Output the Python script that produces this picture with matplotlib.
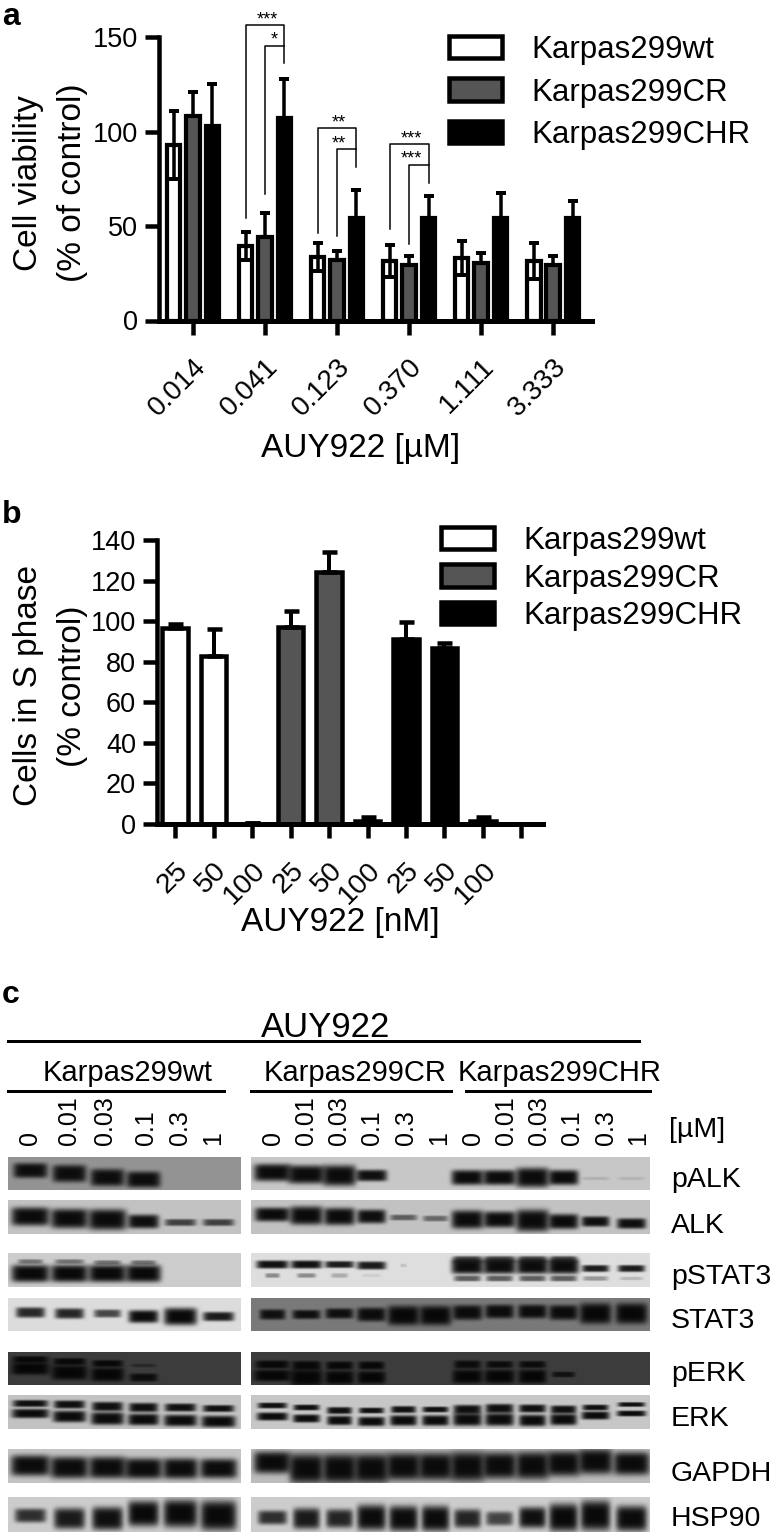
import numpy as np
import matplotlib
matplotlib.use("Agg")
import matplotlib.pyplot as plt
from matplotlib.patches import Patch
from matplotlib.transforms import ScaledTranslation

W, H = 773, 1533
PX = 0.72  # one pixel in points at dpi 100

plt.rcParams['font.family'] = ['Liberation Sans', 'DejaVu Sans']

series_names = ["Karpas299wt", "Karpas299CR", "Karpas299CHR"]
series_colors = ["white", "#555555", "black"]

# panel a
doses_a = ["0.014", "0.041", "0.123", "0.370", "1.111", "3.333"]
wt_a = [93, 39.5, 33.5, 31.5, 33, 31.5]
wt_a_err = [18, 7.5, 7.5, 8.5, 9, 9.5]
cr_a = [108, 44, 32, 29.5, 30.5, 29.5]
cr_a_err = [13, 13, 5, 4.5, 5, 4.5]
chr_a = [103, 107, 54, 54, 54, 54]
chr_a_err = [22, 21, 15, 12, 13.5, 9]

# group, left end, top, right end, inner left end, inner top, stars outer, stars inner
brackets = [
    (1, 54, 156.5, 136.5, 67, 145.5, "***", "*"),
    (2, 46.5, 102, 81, 44.5, 90.5, "**", "**"),
    (3, 48.5, 93.5, 72.5, 40.5, 82.5, "***", "***"),
]

# panel b
doses_b = ["25", "50", "100", "25", "50", "100", "25", "50", "100", ""]
s_phase = [96.8, 83, 0.5, 97, 124, 1.5, 91, 87, 1.5, 0]
s_phase_err = [2, 13.3, 0, 8, 10.3, 2, 8.5, 2.3, 2, 0]
s_phase_group = [0, 0, 0, 1, 1, 1, 2, 2, 2, 2]

# panel c
lane_doses = ["0", "0.01", "0.03", "0.1", "0.3", "1"]
lanes = [30, 69, 107, 143, 180, 218, 272, 306, 339, 371, 403, 435, 467, 499, 532, 563, 595, 631]
lane_text_x = [30, 69, 105, 146, 180, 213, 273, 306, 339, 372, 406, 439, 473, 506, 539, 572, 606, 638]

blot_names = ["pALK", "ALK", "pSTAT3", "STAT3", "pERK", "ERK", "GAPDH", "HSP90"]
blot_text_y = [1180, 1226, 1277, 1321, 1374, 1419, 1474, 1519]
blot_top = [1157, 1200, 1253, 1298, 1352, 1395, 1449, 1497]
blot_bottom = [1190, 1234, 1287, 1331, 1385, 1429, 1483, 1532]
blot_grey_left = [0.58, 0.76, 0.80, 0.86, 0.24, 0.76, 0.77, 0.80]
blot_grey_right = [0.78, 0.76, 0.87, 0.48, 0.24, 0.78, 0.74, 0.80]

# each band row: name index, strengths, y centres, heights, widths
band_rows = [
    (0, [.95, .95, .95, .95, 0, 0, .97, .97, .97, .95, 0, 0, .97, .97, .97, .97, .14, .12],
     [1170, 1173, 1177, 1179, 1179, 1179, 1172, 1174, 1175, 1175, 1175, 1175, 1177, 1177, 1177, 1177, 1178, 1178],
     [13, 15, 15, 14, 1, 1, 15, 16, 18, 10, 1, 1, 13, 13, 17, 13, 3, 3],
     [33, 33, 33, 33, 1, 1, 36, 36, 32, 30, 1, 1, 31, 32, 32, 29, 26, 26]),
    (1, [.97, .97, .97, .95, .7, .7, .97, .97, .97, .95, .55, .5, .97, .97, .97, .97, .95, .95],
     [1216, 1218, 1219, 1221, 1222, 1222, 1214, 1215, 1216, 1216, 1217, 1218, 1219, 1219, 1220, 1221, 1221, 1223],
     [16, 17, 18, 12, 6, 6, 12, 16, 15, 12, 5, 5, 16, 14, 19, 13, 9, 9],
     [37, 36, 37, 30, 30, 30, 34, 32, 30, 28, 26, 24, 31, 31, 32, 29, 27, 28]),
    (2, [.45, .45, .45, .45, 0, 0, .95, .95, .9, .9, .15, 0, .7, .7, .7, .7, 0, 0],
     [1261, 1261, 1262, 1262, 1262, 1262, 1264, 1264, 1264, 1265, 1265, 1265, 1259, 1259, 1259, 1259, 1259, 1259],
     [4, 4, 4, 4, 1, 1, 7, 7, 6, 7, 3, 1, 6, 6, 6, 6, 1, 1],
     [24, 28, 26, 24, 1, 1, 31, 30, 28, 28, 6, 1, 28, 30, 28, 26, 1, 1]),
    (2, [.98, .98, .98, .98, 0, 0, .4, .4, .25, .1, 0, 0, .97, .97, .97, .97, .9, .9],
     [1273, 1273, 1273, 1273, 1273, 1273, 1275, 1275, 1275, 1275, 1275, 1275, 1266, 1266, 1266, 1266, 1268, 1268],
     [15, 15, 15, 15, 1, 1, 4, 4, 4, 3, 1, 1, 13, 13, 13, 13, 6, 6],
     [37, 36, 37, 34, 1, 1, 14, 18, 16, 18, 1, 1, 31, 32, 31, 30, 26, 26]),
    (2, [0] * 12 + [.6, .6, .6, .6, .35, .2],
     [1278] * 18,
     [1] * 12 + [5, 5, 5, 5, 4, 3],
     [1] * 12 + [26, 26, 26, 26, 24, 22]),
    (3, [.85, .85, .7, .97, .98, .9, .92, .92, .92, .95, .98, .98, .95, .95, .95, .95, .98, .98],
     [1312, 1313, 1313, 1316, 1316, 1316, 1314, 1314, 1313, 1314, 1315, 1315, 1312, 1311, 1311, 1312, 1313, 1313],
     [9, 9, 7, 11, 15, 8, 9, 8, 9, 12, 17, 17, 13, 12, 12, 13, 18, 18],
     [28, 28, 26, 29, 32, 30, 25, 27, 27, 28, 31, 31, 29, 28, 28, 28, 31, 31]),
    (4, [.95, .95, .95, .45, 0, 0, .95, .95, .95, .95, 0, 0, .9, .9, .9, 0, 0, 0],
     [1359, 1361, 1363, 1365, 1365, 1365, 1364, 1365, 1365, 1365, 1365, 1365, 1364, 1364, 1364, 1364, 1364, 1364],
     [6, 6, 6, 3, 1, 1, 7, 8, 7, 7, 1, 1, 7, 6, 6, 1, 1, 1],
     [35, 32, 30, 24, 1, 1, 33, 28, 26, 25, 1, 1, 26, 26, 26, 1, 1, 1]),
    (4, [.98, .98, .98, .9, 0, 0, .98, .98, .98, .98, 0, 0, .98, .98, .98, .8, 0, 0],
     [1368, 1372, 1374, 1377, 1377, 1377, 1375, 1377, 1377, 1377, 1377, 1377, 1376, 1376, 1376, 1374, 1374, 1374],
     [11, 13, 12, 7, 1, 1, 10, 14, 12, 11, 1, 1, 12, 12, 12, 5, 1, 1],
     [37, 35, 32, 27, 1, 1, 36, 31, 28, 27, 1, 1, 29, 29, 27, 22, 1, 1]),
    (5, [.95] * 18,
     [1403, 1404, 1406, 1407, 1407, 1408, 1405, 1407, 1410, 1410, 1409, 1409, 1409, 1408, 1408, 1409, 1407, 1404],
     [6, 7, 8, 8, 7, 6, 5, 5, 6, 5, 6, 5, 8, 8, 7, 7, 5, 4],
     [34, 30, 30, 28, 30, 30, 28, 25, 24, 24, 24, 25, 27, 27, 26, 25, 25, 26]),
    (5, [.97] * 18,
     [1413, 1416, 1418, 1419, 1420, 1421, 1416, 1418, 1420, 1421, 1420, 1420, 1419, 1419, 1420, 1419, 1415, 1413],
     [8, 10, 11, 10, 10, 10, 7, 7, 8, 8, 9, 9, 11, 11, 10, 10, 7, 5],
     [36, 32, 32, 30, 32, 33, 30, 26, 24, 26, 26, 26, 28, 28, 26, 26, 27, 28]),
    (6, [.97] * 18,
     [1465, 1467, 1467, 1468, 1468, 1468, 1462, 1468, 1468, 1468, 1466, 1466, 1466, 1465, 1465, 1463, 1461, 1463],
     [18, 19, 19, 18, 18, 17, 19, 26, 26, 26, 24, 24, 26, 23, 24, 22, 22, 20],
     [38, 37, 36, 37, 34, 36, 36, 33, 33, 33, 33, 33, 33, 33, 32, 32, 33, 35]),
    (7, [.8, .9, .95, .98, .98, .98, .8, .9, .85, .97, .97, .97, .85, .7, .95, .98, .98, .97],
     [1515, 1518, 1518, 1513, 1513, 1515, 1517, 1518, 1518, 1517, 1518, 1518, 1518, 1518, 1517, 1517, 1515, 1518],
     [12, 18, 20, 22, 24, 26, 12, 18, 16, 22, 22, 22, 16, 12, 18, 24, 26, 22],
     [30, 30, 30, 30, 33, 35, 28, 26, 26, 28, 28, 27, 26, 26, 26, 28, 29, 30]),
]


def add_axes_px(fig, left, right, top, bottom):
    return fig.add_axes([left / W, 1 - bottom / H, (right - left) / W, (bottom - top) / H])


def style_axes(ax):
    ax.patch.set_visible(False)
    ax.spines['top'].set_visible(False)
    ax.spines['right'].set_visible(False)
    ax.spines['left'].set_linewidth(4.5 * PX)
    ax.spines['bottom'].set_linewidth(5 * PX)
    ax.tick_params(axis='both', length=14 * PX, width=4.5 * PX, pad=5)


def make_blot_image():
    img = np.ones((H, W))
    inside = np.zeros((H, W), dtype=bool)
    yy, xx = np.mgrid[0:H, 0:W]
    for top, bottom, g_left, g_right in zip(blot_top, blot_bottom, blot_grey_left, blot_grey_right):
        img[top:bottom, 8:241] = g_left
        img[top:bottom, 251:650] = g_right
        inside[top:bottom, 8:241] = True
        inside[top:bottom, 251:650] = True
    for row in band_rows:
        _, strengths, ys, heights, widths = row
        for x, s, y, h, w in zip(lanes, strengths, ys, heights, widths):
            if s == 0:
                continue
            y0, y1 = max(0, y - 30), min(H, y + 30)
            x0, x1 = max(0, x - 30), min(W, x + 30)
            dx = (xx[y0:y1, x0:x1] - x) / (w * 0.52)
            dy = (yy[y0:y1, x0:x1] - y) / (h * 0.58)
            f = np.exp(-(np.abs(dx) ** 6 + np.abs(dy) ** 4))
            band = 0.02 + (1 - s) * img[y0:y1, x0:x1]
            img[y0:y1, x0:x1] = img[y0:y1, x0:x1] * (1 - f) + band * f
    img[~inside] = 1
    return np.clip(img, 0, 1)


def legend_px(ax, left, top, spacing):
    handles = [Patch(facecolor=c, edgecolor='black', linewidth=4.5 * PX) for c in series_colors]
    ax.legend(handles, series_names, loc='upper left', frameon=False,
              bbox_to_anchor=(left / W, 1 - top / H), bbox_transform=ax.figure.transFigure,
              fontsize=22.5, handlelength=1.7, handleheight=0.73, handletextpad=0.95,
              labelspacing=spacing, borderpad=0, borderaxespad=0)


def draw_panel_a(fig):
    ax = add_axes_px(fig, 159, 592, 37, 320.5)
    style_axes(ax)
    x = np.arange(len(doses_a))
    offset = 0.27
    groups = [(wt_a, wt_a_err), (cr_a, cr_a_err), (chr_a, chr_a_err)]
    for i, (vals, errs) in enumerate(groups):
        lower = errs if i == 0 else [0] * len(errs)
        ax.bar(x + (i - 1) * offset, vals, width=0.19, color=series_colors[i],
               edgecolor='black', linewidth=4.2 * PX, yerr=[lower, errs],
               error_kw=dict(ecolor='black', elinewidth=3.5 * PX, capsize=5.4 * PX, capthick=4 * PX))

    for g, left_end, top, right_end, inner_end, inner_top, s1, s2 in brackets:
        xl, xm, xr = g - offset, g, g + offset
        ax.plot([xl, xl, xr, xr], [left_end, top, top, right_end], color='black',
                lw=1.5 * PX, clip_on=False)
        ax.plot([xm, xm, xr], [inner_end, inner_top, inner_top], color='black',
                lw=1.5 * PX, clip_on=False)
        ax.text(g + 0.03, top - 1.8, s1, ha='center', va='bottom', fontsize=13, clip_on=False)
        sx = g + 0.13 if len(s2) == 1 else g + 0.03
        ax.text(sx, inner_top - 1.8, s2, ha='center', va='bottom', fontsize=13, clip_on=False)

    ax.set_xlim(-0.472, 5.54)
    ax.set_ylim(0, 150)
    ax.set_yticks([0, 50, 100, 150])
    ax.tick_params(axis='y', labelsize=19.5)
    ax.set_xticks(x)
    labels = ax.set_xticklabels(doses_a, rotation=45, ha='right', rotation_mode='anchor', fontsize=20)
    shift = ScaledTranslation(-3 / 100, -2 / 100, fig.dpi_scale_trans)
    for t in labels:
        t.set_transform(t.get_transform() + shift)
    ax.tick_params(axis='x', pad=14)
    legend_px(ax, 449, 35, 0.4)


def draw_panel_b(fig):
    ax = add_axes_px(fig, 157, 543, 540, 824)
    style_axes(ax)
    x = np.arange(len(doses_b))
    for xi, v, e, g in zip(x, s_phase, s_phase_err, s_phase_group):
        if v == 0:
            continue
        lw = 4.5 if v > 1 else 1.5
        ax.bar(xi, v, width=0.66, color=series_colors[g], edgecolor='black',
               linewidth=lw * PX, yerr=[[0], [e]],
               error_kw=dict(ecolor='black', elinewidth=4 * PX, capsize=7.5 * PX, capthick=4.5 * PX))
    ax.set_xlim(-0.47, 9.56)
    ax.set_ylim(0, 140)
    ax.set_yticks(range(0, 141, 20))
    ax.tick_params(axis='y', labelsize=19.5)
    ax.set_xticks(x)
    labels = ax.set_xticklabels(doses_b, rotation=45, ha='right', rotation_mode='anchor', fontsize=20.5)
    shift = ScaledTranslation(-3 / 100, 0, fig.dpi_scale_trans)
    for t in labels:
        t.set_transform(t.get_transform() + shift)
    ax.tick_params(axis='x', pad=14)
    legend_px(ax, 441, 526, 0.24)


def main():
    fig = plt.figure(figsize=(W / 100, H / 100), dpi=100)
    bg = fig.add_axes([0, 0, 1, 1])
    bg.imshow(make_blot_image(), cmap='gray', vmin=0, vmax=1, extent=(0, W, H, 0),
              aspect='auto', interpolation='bilinear')
    bg.axis('off')

    # panel letters
    for s, y in zip("abc", [25, 523, 1003]):
        bg.text(2, y, s, fontsize=23, fontweight='bold', ha='left', va='baseline')

    # axis titles
    bg.text(29, 183, "Cell viability", fontsize=24, rotation=90, ha='center', va='center')
    bg.text(72, 183, "(% of control)", fontsize=24, rotation=90, ha='center', va='center')
    bg.text(361, 449, "AUY922 [\u00b5M]", fontsize=24, ha='center', va='center')
    bg.text(29, 686, "Cells in S phase", fontsize=24, rotation=90, ha='center', va='center')
    bg.text(72, 686, "(% control)", fontsize=24, rotation=90, ha='center', va='center')
    bg.text(340, 923, "AUY922 [nM]", fontsize=24, ha='center', va='center')

    draw_panel_a(fig)
    draw_panel_b(fig)

    # panel c header
    bg.text(326, 1037, "AUY922", fontsize=25, ha='center', va='baseline')
    bg.plot([8, 639], [1041, 1041], color='black', lw=3 * PX)
    for name, xc, x1, x2 in zip(series_names, [128, 355, 560], [8, 251, 466], [224, 451, 650]):
        bg.text(xc, 1081, name, fontsize=21, ha='center', va='baseline')
        bg.plot([x1, x2], [1091, 1091], color='black', lw=3 * PX)
    for i, x in enumerate(lane_text_x):
        bg.text(x, 1145, lane_doses[i % 6], fontsize=18, rotation=90, ha='center', va='bottom')
    bg.text(669, 1130, "[\u00b5M]", fontsize=20.5, ha='left', va='center')
    for name, y in zip(blot_names, blot_text_y):
        bg.text(671, y, name, fontsize=20.5, ha='left', va='center')

    bg.set_xlim(0, W)
    bg.set_ylim(H, 0)
    fig.savefig("out.png", dpi=100)
    plt.close(fig)


if __name__ == "__main__":
    main()
